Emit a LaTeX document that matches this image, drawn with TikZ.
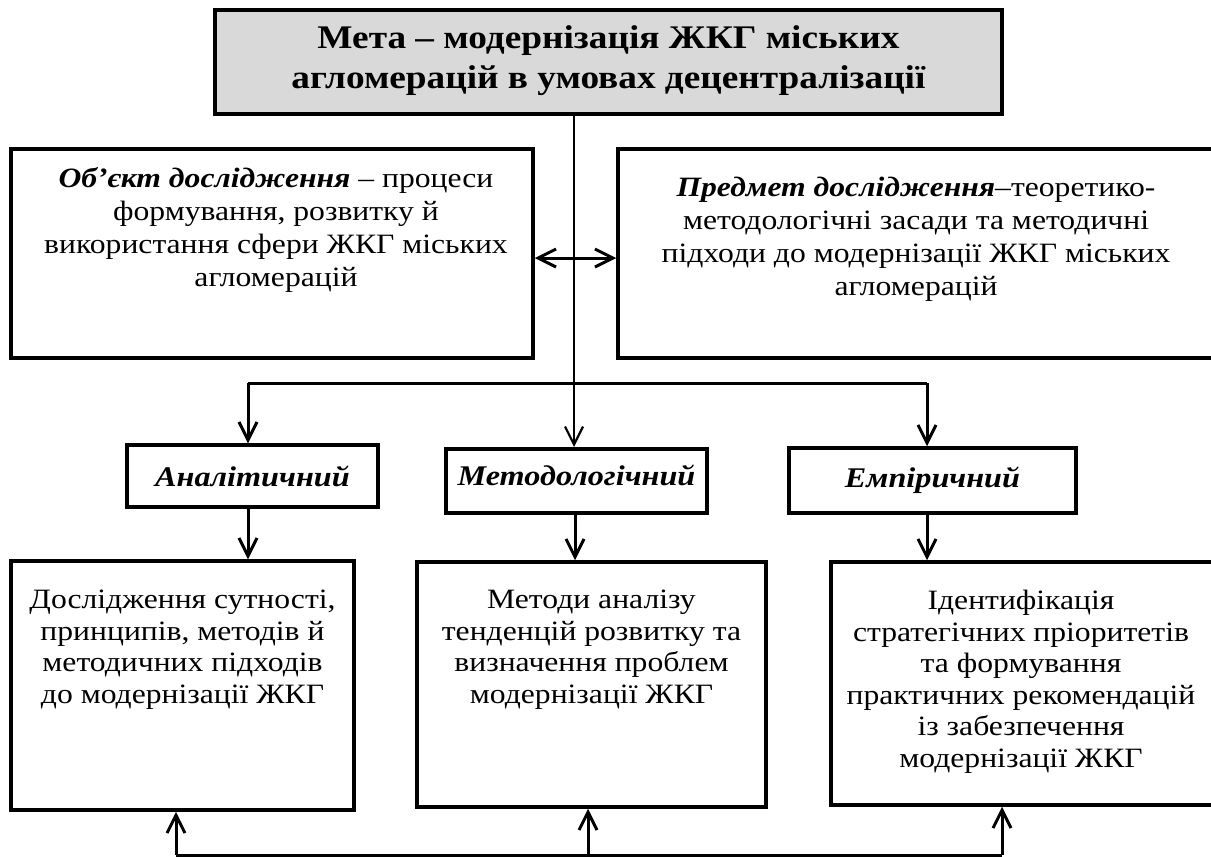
\documentclass[tikz,border=0pt]{standalone}
\usepackage{fontspec}
\setmainfont{Liberation Serif}[FakeStretch=1.13]
\usetikzlibrary{arrows.meta}
\tikzset{
  box/.style={draw, line width=3.5pt, inner sep=0pt},
  lab/.style={inner sep=0pt, align=center},
  body/.style={lab, font=\fontsize{28}{33}\selectfont},
  bodyb/.style={lab, font=\fontsize{28}{31.5}\selectfont},
  tag/.style={lab, anchor=base, font=\fontsize{28.5}{32}\selectfont\bfseries\itshape},
  conn/.style={line width=3pt},
  arr/.style={conn, -{Straight Barb[length=18pt,width=18pt]}},
}
\begin{document}
\begin{tikzpicture}[x=1pt,y=-1pt]
\useasboundingbox (0,0) rectangle (1211,857);
% top goal box
\node[box, fill=black!15, minimum width=787pt, minimum height=104pt] (goal) at (608.5,62) {};
\node[lab, anchor=north, font=\fontsize{33}{40}\selectfont\bfseries] (goalt) at (608.5,25)
  {Мета – модернізація ЖКГ міських\\агломерацій в умовах децентралізації};
% object and subject boxes
\node[box, minimum width=522pt, minimum height=209pt] (obj) at (272,253.5) {};
\node[body, anchor=north] (objt) at (276,167)
  {\textbf{\textit{Об’єкт дослідження}} – процеси\\формування, розвитку й\\використання сфери ЖКГ міських\\агломерацій};
\node[box, minimum width=597pt, minimum height=209pt] (subj) at (916.5,253.5) {};
\node[body, anchor=north] (subjt) at (916,177)
  {\textbf{\textit{Предмет дослідження}}–теоретико-\\методологічні засади та методичні\\підходи до модернізації ЖКГ міських\\агломерацій};
% middle label boxes
\node[box, minimum width=251pt, minimum height=62pt] (an) at (252.5,476) {};
\node[tag] (ant) at (252.5,486) {Аналітичний};
\node[box, minimum width=261pt, minimum height=64pt] (me) at (576.5,481) {};
\node[tag] (met) at (576.5,485) {Методологічний};
\node[box, minimum width=287pt, minimum height=65pt] (em) at (932.5,480.5) {};
\node[tag] (emt) at (932.5,487) {Емпіричний};
% bottom boxes
\node[box, minimum width=343pt, minimum height=249pt] (b1) at (182.5,685.5) {};
\node[bodyb, anchor=north] (b1t) at (182.5,590)
  {Дослідження сутності,\\принципів, методів й\\методичних підходів\\до модернізації ЖКГ};
\node[box, minimum width=349pt, minimum height=245pt] (b2) at (591.5,684.5) {};
\node[bodyb, anchor=north] (b2t) at (591.5,590)
  {Методи аналізу\\тенденцій розвитку та\\визначення проблем\\модернізації ЖКГ};
\node[box, minimum width=384pt, minimum height=243pt] (b3) at (1023,683.5) {};
\node[bodyb, anchor=north] (b3t) at (1021,590)
  {Ідентифікація\\стратегічних пріоритетів\\та формування\\практичних рекомендацій\\із забезпечення\\модернізації ЖКГ};
% coordinates
\coordinate (hl) at (248,383);
\coordinate (hr) at (927,383);
\coordinate (bl) at (176,855);
\coordinate (bm) at (588,855);
\coordinate (br) at (1002,855);
% connectors
\draw[line width=2.2pt, -{Straight Barb[length=18pt,width=18pt]}] (goal.south -| 574,0) -- (574,447);
\draw[conn] (hl) -- (hr);
\draw[arr] (hl) -- (hl |- an.north);
\draw[arr] (hr) -- (hr |- em.north);
\draw[conn, {Straight Barb[length=18pt,width=18pt]}-{Straight Barb[length=18pt,width=18pt]}] (obj.east |- 0,258) -- (subj.west |- 0,258);
\draw[arr] (an.south -| hl) -- (hl |- b1.north);
\draw[arr] (me.south -| 575,0) -- (575,0 |- b2.north);
\draw[arr] (em.south -| hr) -- (hr |- b3.north);
\draw[conn] (bl) -- (br);
\draw[arr] (bl) -- (bl |- b1.south);
\draw[arr] (bm) -- (bm |- b2.south);
\draw[arr] (br) -- (br |- b3.south);
\end{tikzpicture}
\end{document}
